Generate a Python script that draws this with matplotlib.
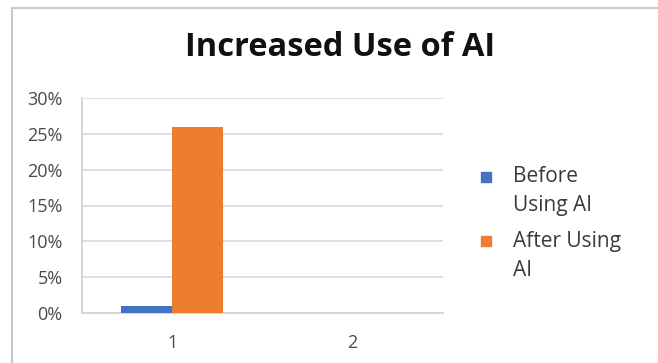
import numpy as np
import matplotlib
matplotlib.use("Agg")
import matplotlib.pyplot as plt
from matplotlib.patches import Rectangle
from matplotlib.lines import Line2D
from matplotlib.ticker import PercentFormatter

# Data
categories = ["1", "2"]
series_names = ["Before\nUsing AI", "After Using\nAI"]
before_values = [0.01, np.nan]
after_values = [0.26, np.nan]
y_ticks = [0.0, 0.05, 0.10, 0.15, 0.20, 0.25, 0.30]

colors = ["#4472C4", "#ED7D31"]
plt.rcParams["font.family"] = ["Open Sans", "DejaVu Sans"]

W, H = 658, 363
fig = plt.figure(figsize=(W / 100, H / 100), dpi=100)
fig.patch.set_facecolor("white")

# Chart frame (left and top edges)
fig.add_artist(Line2D([11.5 / W, 11.5 / W], [0, 1 - 8 / H], transform=fig.transFigure,
                      color="#c8c8c8", lw=1.5))
fig.add_artist(Line2D([11.5 / W, 1], [1 - 8 / H, 1 - 8 / H], transform=fig.transFigure,
                      color="#c8c8c8", lw=1.5))

left, right, top, bottom = 82, 443, 98, 313
ax = fig.add_axes([left / W, 1 - bottom / H, (right - left) / W, (bottom - top) / H])

x = np.arange(1, len(categories) + 1)
bw = 0.283
ax.bar(x - bw / 2, before_values, bw, color=colors[0], label=series_names[0], zorder=3)
ax.bar(x + bw / 2, after_values, bw, color=colors[1], label=series_names[1], zorder=3)

ax.set_xlim(0.5, len(categories) + 0.5)
ax.set_ylim(0, 0.30)
ax.set_yticks(y_ticks)
ax.yaxis.set_major_formatter(PercentFormatter(1.0, decimals=0))
ax.set_xticks(x)
ax.set_xticklabels(categories)
ax.grid(axis="y", color="#d9d9d9", lw=1.2, zorder=0)
ax.tick_params(axis="both", length=0, labelsize=13, labelcolor="#4a4a4a")
ax.tick_params(axis="y", pad=14)
ax.tick_params(axis="x", pad=15)
for s in ["top", "right"]:
    ax.spines[s].set_visible(False)
for s in ["left", "bottom"]:
    ax.spines[s].set_color("#d0d0d0")
    ax.spines[s].set_linewidth(1.2)

fig.text(340 / W, 1 - 48 / H, "Increased Use of AI", ha="center", va="center",
         fontsize=23.5, fontweight="bold", color="#111111")

# Legend
leg_rows = [(177, 206), (241, 270)]
for name, col, (y1, y2) in zip(series_names, colors, leg_rows):
    fig.add_artist(Rectangle((481 / W, 1 - (y1 + 5) / H), 10 / W, 10 / H,
                             transform=fig.transFigure, color=col))
    for line, yy in zip(name.split("\n"), (y1, y2)):
        fig.text(513 / W, 1 - yy / H, line, ha="left", va="center",
                 fontsize=15, color="#3a3a3a")

fig.savefig("out.png", dpi=100, facecolor="white")
